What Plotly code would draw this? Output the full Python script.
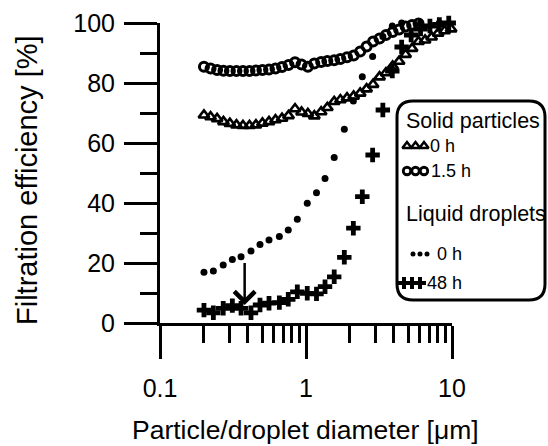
import math
import plotly.graph_objects as go

# ---- data -------------------------------------------------------------
# Solid particles (fine-resolution size channels)
solid_d = [0.200, 0.222, 0.246, 0.272, 0.301, 0.334, 0.370, 0.410, 0.454, 0.503,
           0.558, 0.618, 0.685, 0.759, 0.841, 0.932, 1.03, 1.14, 1.27, 1.40,
           1.56, 1.72, 1.91, 2.12, 2.35, 2.60, 2.88, 3.19, 3.53, 3.92,
           4.34, 4.81, 5.33, 5.90, 6.54, 7.25, 8.03, 8.90, 9.86]
solid_0h = [69.3, 68.7, 68.1, 67.1, 66.5, 66.0, 65.8, 65.8, 66.0, 66.6,
            67.1, 67.7, 68.2, 69.1, 71.4, 70.3, 69.8, 69.0, 70.4, 71.8,
            73.8, 74.4, 75.0, 75.6, 76.6, 78.0, 79.5, 82.0, 83.4, 85.6,
            87.2, 89.5, 91.5, 93.8, 94.3, 95.3, 96.6, 97.4, 98.0]
solid_15h = [85.4, 84.8, 84.3, 84.1, 84.0, 84.0, 84.0, 84.0, 84.2, 84.3,
             84.5, 84.8, 85.3, 86.0, 86.9, 86.2, 85.4, 86.5, 87.0, 87.3,
             87.6, 88.0, 88.6, 89.2, 90.5, 92.2, 93.8, 94.8, 96.0, 97.0,
             97.8, 98.8, 99.3, 99.8, 100.3, 100.4, 100.4, 100.3, 100.2]

# Liquid droplets
liquid_d = [0.200, 0.232, 0.271, 0.313, 0.359, 0.420, 0.484, 0.558, 0.657, 0.756,
            0.872, 1.02, 1.18, 1.35, 1.56, 1.83, 2.11, 2.43, 2.86, 3.36,
            3.90, 4.52, 5.25, 6.09, 7.06, 8.19, 9.50]
liquid_0h = [16.9, 17.3, 19.3, 21.2, 22.1, 24.0, 26.2, 27.7, 28.8, 31.0,
             34.6, 39.9, 43.4, 48.2, 55.2, 64.6, 74.0, 82.1, 88.8, 95.5,
             99.0, 100.0, 100.2, 100.0, 100.3, 100.0, 100.1]
liquid_48h = [4.3, 3.4, 4.9, 5.8, 4.9, 3.4, 6.0, 6.6, 6.8, 7.9,
              10.4, 9.9, 9.7, 12.1, 15.4, 21.9, 31.6, 42.1, 56.0, 71.0,
              84.0, 92.0, 96.0, 98.0, 99.0, 99.5, 100.0]

x_tickvals = [0.1, 1, 10]
x_ticktext = ["0.1", "1", "10"]
x_minor = [0.2, 0.3, 0.4, 0.5, 0.6, 0.7, 0.8, 0.9, 2, 3, 4, 5, 6, 7, 8, 9]
y_tickvals = [0, 20, 40, 60, 80, 100]
y_minor = [10, 30, 50, 70, 90]

# arrow marking the most penetrating size of the loaded filter
arrow_d = 0.38
arrow_from, arrow_to = 20.5, 6.0

# ---- layout geometry (pixels) -----------------------------------------
W, H = 548, 446
PX0, PX1 = 160, 452      # plot frame left / right
PY0, PY1 = 23, 323       # plot frame top / bottom
YLAB_X = 113             # right edge of the y tick labels
FONT = "Arial"
LW = 3

fig = go.Figure()

sym = dict(color="black")
fig.add_trace(go.Scatter(x=liquid_d, y=liquid_0h, mode="markers", cliponaxis=False,
                         marker=dict(symbol="circle", size=7, **sym)))
fig.add_trace(go.Scatter(x=liquid_d, y=liquid_48h, mode="markers", cliponaxis=False,
                         marker=dict(symbol="cross", size=12, line=dict(width=0), **sym)))
fig.add_trace(go.Scatter(x=solid_d, y=solid_0h, mode="markers", cliponaxis=False,
                         marker=dict(symbol="triangle-up-open", size=9.5,
                                     line=dict(width=2.6, color="black"), **sym)))
fig.add_trace(go.Scatter(x=solid_d, y=solid_15h, mode="markers", cliponaxis=False,
                         marker=dict(symbol="circle-open", size=9,
                                     line=dict(width=3, color="black"), **sym)))
# empty companion trace so the label axis (y3) gets drawn
fig.add_trace(go.Scatter(x=[solid_d[0]], y=[solid_0h[0]], yaxis="y3", mode="markers",
                         marker=dict(opacity=0), hoverinfo="skip"))

# ---- legend box (drawn on a full-figure pixel overlay) -----------------
BX0, BX1, BY0, BY1, R = 397, 545, 101, 300, 16
box_path = (f"M {BX0+R},{BY0} L {BX1-R},{BY0} Q {BX1},{BY0} {BX1},{BY0+R} "
            f"L {BX1},{BY1-R} Q {BX1},{BY1} {BX1-R},{BY1} L {BX0+R},{BY1} "
            f"Q {BX0},{BY1} {BX0},{BY1-R} L {BX0},{BY0+R} Q {BX0},{BY0} {BX0+R},{BY0} Z")
fig.add_shape(type="path", path=box_path, xref="x2", yref="y2",
              line=dict(color="black", width=LW), fillcolor="rgba(0,0,0,0)")

leg_rows = [
    # symbol, size, line width, x positions, y, label, label x
    ("triangle-up-open", 8, 2.5, [407, 415.5, 424], 146, "0 h", 428),
    ("circle-open", 7.5, 2.8, [407, 415.5, 424], 171, "1.5 h", 429),
    ("circle", 5, 0, [413, 420, 427], 254, "0 h", 435),
    ("cross", 10, 0, [404, 412, 420], 283, "48 h", 425),
]
for s, sz, lw, xs, yy, lab, lx in leg_rows:
    fig.add_trace(go.Scatter(x=xs, y=[yy] * len(xs), xaxis="x2", yaxis="y2",
                             mode="markers", cliponaxis=False,
                             marker=dict(symbol=s, size=sz, color="black",
                                         line=dict(width=lw, color="black"))))
    fig.add_annotation(x=lx, y=yy, xref="x2", yref="y2", text=lab, showarrow=False,
                       xanchor="left", yanchor="middle",
                       font=dict(family=FONT, size=18, color="black"))

for txt, yy in [("Solid particles", 121), ("Liquid droplets", 214)]:
    fig.add_annotation(x=404, y=yy, xref="x2", yref="y2", text=txt, showarrow=False,
                       xanchor="left", yanchor="middle",
                       font=dict(family=FONT, size=21.5, color="black"))

# ---- axis titles --------------------------------------------------------
fig.add_annotation(x=305, y=430, xref="x2", yref="y2",
                   text="Particle/droplet diameter [\u03bcm]", showarrow=False,
                   xanchor="center", yanchor="middle",
                   font=dict(family=FONT, size=26.5, color="black"))
fig.add_annotation(x=27, y=180, xref="x2", yref="y2",
                   text="Filtration efficiency [%]", showarrow=False, textangle=-90,
                   xanchor="center", yanchor="middle",
                   font=dict(family=FONT, size=29, color="black"))

# ---- arrow --------------------------------------------------------------
fig.add_annotation(x=math.log10(arrow_d), y=arrow_to, ax=math.log10(arrow_d), ay=arrow_from,
                   xref="x", yref="y", axref="x", ayref="y", text="", showarrow=True,
                   arrowhead=4, arrowsize=1.6, arrowwidth=2.5, arrowcolor="black", standoff=0)

axis_common = dict(showline=True, linecolor="black", linewidth=LW, ticks="outside",
                   ticklen=33, tickwidth=LW, tickcolor="black", showgrid=False,
                   zeroline=False, automargin=False,
                   tickfont=dict(family=FONT, size=25, color="black"))

y_domain = [(H - PY1) / H, (H - PY0) / H]

fig.update_layout(
    width=W, height=H,
    margin=dict(l=0, r=0, t=0, b=0),
    paper_bgcolor="white", plot_bgcolor="rgba(0,0,0,0)",
    showlegend=False,
    xaxis=dict(type="log", range=[-1, 1], domain=[PX0 / W, PX1 / W], anchor="y",
               tickvals=x_tickvals, ticktext=x_ticktext, ticklabelstandoff=8,
               minor=dict(ticks="outside", ticklen=17, tickwidth=LW, tickcolor="black",
                          tickvals=x_minor, showgrid=False),
               **axis_common),
    yaxis=dict(range=[0, 100], domain=y_domain, anchor="x",
               tickvals=y_tickvals, showticklabels=False,
               minor=dict(ticks="outside", ticklen=17, tickwidth=LW, tickcolor="black",
                          tickvals=y_minor, showgrid=False),
               **axis_common),
    # labels-only companion axis carrying the y tick numbers
    yaxis3=dict(range=[0, 100], overlaying="y", anchor="free", side="left",
                position=(YLAB_X + 2) / W, tickvals=y_tickvals, showline=False,
                ticks="", showgrid=False, zeroline=False, automargin=False,
                tickfont=dict(family=FONT, size=25, color="black")),
    xaxis2=dict(domain=[0, 1], range=[0, W], visible=False, anchor="y2", fixedrange=True),
    yaxis2=dict(domain=[0, 1], range=[H, 0], visible=False, anchor="x2", fixedrange=True),
)

fig.write_html("out.html")
